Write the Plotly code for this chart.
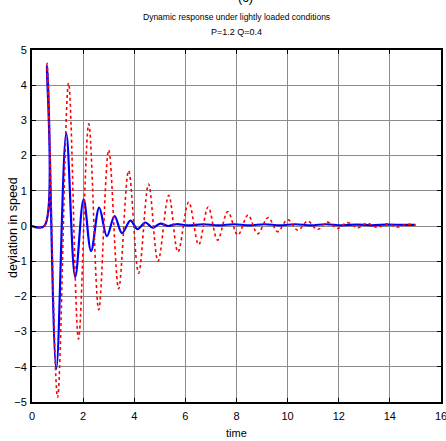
import plotly.graph_objects as go

# values (peaks / troughs of each response)
t_light = [0, 0.48, 0.59, 1.0, 1.43, 1.82, 2.22, 2.61, 3.0, 3.39, 3.78, 4.17, 4.56, 4.93,
           5.35, 5.71, 6.13, 6.52, 6.89, 7.26, 7.66, 8.05, 8.45, 8.83, 9.24, 9.61, 10.0,
           10.4, 10.79, 11.16, 11.55, 11.96, 12.33, 12.74, 13.1, 13.5, 13.9, 14.3, 14.7, 15.0]
w_light = [0, 0, 4.62, -4.87, 4.06, -3.21, 2.9, -2.38, 2.16, -1.78, 1.57, -1.34, 1.19, -1.0,
           0.87, -0.74, 0.68, -0.53, 0.54, -0.4, 0.41, -0.26, 0.31, -0.22, 0.24, -0.16, 0.18,
           -0.12, 0.14, -0.1, 0.11, -0.07, 0.1, -0.05, 0.08, -0.04, 0.06, -0.03, 0.05, 0.02]

t_ctrl = [0, 0.48, 0.59, 0.95, 1.34, 1.69, 2.02, 2.31, 2.63, 2.93, 3.23, 3.52, 3.85, 4.13,
          4.43, 4.72, 5.02, 5.32, 5.65, 6.1, 6.7, 7.3, 7.9, 8.5, 9.1, 9.7, 10.3, 10.9,
          11.5, 12.1, 12.7, 13.3, 13.9, 14.5, 15.0]
w_ctrl = [0, 0, 4.55, -4.06, 2.63, -1.45, 0.76, -0.71, 0.52, -0.29, 0.28, -0.2, 0.15, -0.09,
          0.1, -0.05, 0.07, 0.0, 0.05, 0.02, 0.05, 0.02, 0.05, 0.02, 0.05, 0.02, 0.05, 0.02,
          0.05, 0.02, 0.04, 0.02, 0.04, 0.03, 0.03]

x_ticks = [0, 2, 4, 6, 8, 10, 12, 14, 16]
y_ticks = [-5, -4, -3, -2, -1, 0, 1, 2, 3, 4, 5]

narrow = "Liberation Sans Narrow, Arial Narrow, Liberation Sans, sans-serif"

fig = go.Figure()
fig.add_trace(go.Scatter(x=t_ctrl, y=w_ctrl, mode="lines",
                         line=dict(color="#0000ff", width=2.2, shape="spline")))
fig.add_trace(go.Scatter(x=t_light, y=w_light, mode="lines",
                         line=dict(color="#ff0000", width=1.6, dash="dot", shape="spline")))

fig.update_layout(
    width=446, height=441,
    margin=dict(l=32, r=5, t=50, b=39),
    paper_bgcolor="white", plot_bgcolor="white",
    showlegend=False,
    font=dict(family=narrow, size=11, color="black"),
    annotations=[
        dict(text="(c)", x=0.521, y=1.15, xref="paper", yref="paper", xanchor="center",
             yanchor="middle", showarrow=False, font=dict(family=narrow, size=13)),
        dict(text="Dynamic response under lightly loaded conditions", x=0.499, y=1.094,
             xref="paper", yref="paper", xanchor="center", yanchor="middle",
             showarrow=False, font=dict(family=narrow, size=8.5)),
        dict(text="P=1.2 Q=0.4", x=0.499, y=1.052, xref="paper", yref="paper",
             xanchor="center", yanchor="middle", showarrow=False,
             font=dict(family=narrow, size=9)),
        dict(text="deviation in speed", x=-0.0465, y=0.497, xref="paper", yref="paper",
             xanchor="center", yanchor="middle", textangle=-90, showarrow=False,
             font=dict(family="Liberation Sans, Arial, sans-serif", size=12.5)),
        dict(text="time", x=0.5, y=-0.088, xref="paper", yref="paper",
             xanchor="center", yanchor="middle", showarrow=False,
             font=dict(family=narrow, size=11)),
    ],
)
fig.update_xaxes(range=[0, 16], tickvals=x_ticks, showgrid=True, gridcolor="#8c8c8c",
                 gridwidth=1, zeroline=False, showline=True, linecolor="black", linewidth=2,
                 mirror="ticks", ticks="inside", ticklen=4, tickcolor="black", automargin=False,
                 ticklabeloverflow="allow", ticklabelstandoff=3)
fig.update_yaxes(range=[-5, 5], tickvals=y_ticks, showgrid=True, gridcolor="#8c8c8c",
                 gridwidth=1, zeroline=False, showline=True, linecolor="black", linewidth=2,
                 mirror="ticks", ticks="inside", ticklen=4, tickcolor="black", automargin=False,
                 ticklabeloverflow="allow", ticklabelstandoff=1)

fig.write_html("out.html", config={"displayModeBar": False},
               post_script="document.body.style.margin='0px';")
